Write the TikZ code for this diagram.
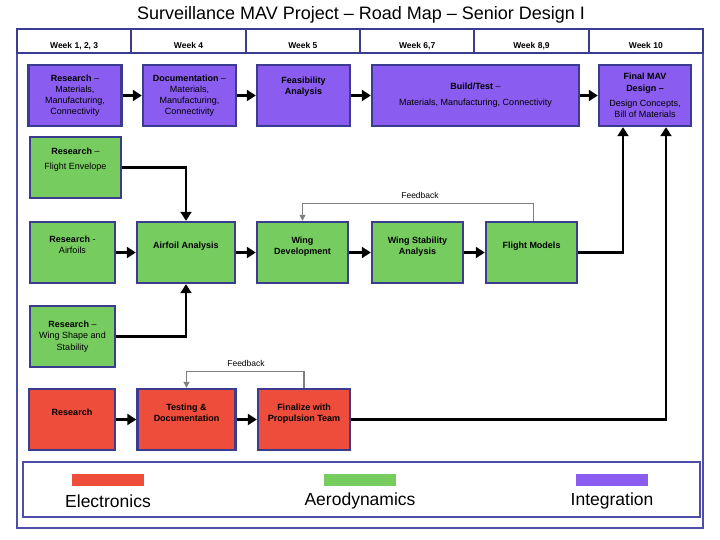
\documentclass[tikz,border=0pt]{standalone}
\usepackage{fontspec}
\setmainfont{Liberation Sans}
\usetikzlibrary{positioning,arrows.meta,calc}
\definecolor{mapblue}{HTML}{3B3B8F}
\definecolor{frameblue}{HTML}{4E4EA6}
\definecolor{integfill}{HTML}{8A5CF0}
\definecolor{aerofill}{HTML}{77CC60}
\definecolor{elecfill}{HTML}{EE4D3B}
\tikzset{
    every node/.style={font=\fontsize{9}{11.2}\selectfont},
    stage/.style={rectangle,draw=mapblue,line width=2.4pt,align=center,inner sep=2pt,minimum height=61pt},
    integ/.style={stage,fill=integfill},
    aero/.style={stage,fill=aerofill},
    elec/.style={stage,fill=elecfill},
    weekcell/.style={rectangle,draw=mapblue,line width=2pt,fill=white,minimum width=114.33pt,minimum height=24pt},
    weektext/.style={font=\bfseries\fontsize{8.5}{10}\selectfont,anchor=base},
    swatch/.style={rectangle,minimum width=72pt,minimum height=12pt,inner sep=0pt},
    legendtext/.style={font=\fontsize{17.5}{19}\selectfont},
    flow/.style={draw,line width=2.4pt,-{Triangle[length=9pt,width=11pt]}},
    fback/.style={draw=gray,line width=1.1pt,-{Triangle[length=6pt,width=6pt]}},
    fbtext/.style={font=\fontsize{8.5}{10}\selectfont}
}

\begin{document}
\begin{tikzpicture}[x=1pt,y=-1pt]
\useasboundingbox (0,0) rectangle (720,540);

% title and frame
\node[font=\fontsize{18}{20}\selectfont] (title) at (361,15) {Surveillance MAV Project -- Road Map -- Senior Design I};
\draw[frameblue,line width=2.6pt] (17,30) rectangle (703,528);

% weeks
\foreach \i in {1,...,6}{
    \node[weekcell] (week\i) at ({17+114.33*(\i-0.5)},41.5) {};
}
\node[weektext] (wkA) at ([yshift=-7pt]week1) {Week 1, 2, 3};
\node[weektext] (wkB) at ([yshift=-7pt]week2) {Week 4};
\node[weektext] (wkC) at ([yshift=-7pt]week3) {Week 5};
\node[weektext] (wkD) at ([yshift=-7pt]week4) {Week 6,7};
\node[weektext] (wkE) at ([yshift=-7pt]week5) {Week 8,9};
\node[weektext] (wkF) at ([yshift=-7pt]week6) {Week 10};

% integration row
\node[integ,minimum width=93pt] (resM) at (75,95.5) {\textbf{Research} --\\Materials,\\Manufacturing,\\Connectivity};
\node[integ,minimum width=93pt] (doc) at (189.5,95.5) {\textbf{Documentation} --\\Materials,\\Manufacturing,\\Connectivity};
\node[integ,minimum width=93pt] (feas) at (303.5,95.5) {\textbf{Feasibility}\\\textbf{Analysis}\\[8pt]};
\node[integ,minimum width=207pt] (build) at (475.5,95.5) {\textbf{Build/Test} --\\[5pt]Materials, Manufacturing, Connectivity};
\node[integ,minimum width=92pt] (final) at (645,95.5) {\textbf{Final MAV}\\\textbf{Design --}\\[4pt]Design Concepts,\\Bill of Materials};

% aerodynamics
\node[aero,minimum width=91pt] (resFE) at (75.5,167.5) {\textbf{Research} --\\[4pt]Flight Envelope\\[6pt]};
\node[aero,minimum width=85pt] (resAF) at (72.5,252.5) {\textbf{Research} -\\Airfoils\\[4pt]};
\node[aero,minimum width=98pt] (airfoil) at (186,252.5) {\textbf{Airfoil Analysis}\\[4pt]};
\node[aero,minimum width=91pt] (wingdev) at (302.5,252.5) {\textbf{Wing}\\\textbf{Development}\\[2pt]};
\node[aero,minimum width=91pt] (wingstab) at (417.5,252.5) {\textbf{Wing Stability}\\\textbf{Analysis}\\[2pt]};
\node[aero,minimum width=91pt] (flight) at (531.5,252.5) {\textbf{Flight Models}\\[4pt]};
\node[aero,minimum width=85pt] (resWS) at (72.5,336.5) {\textbf{Research} --\\Wing Shape and\\Stability};

% electronics
\node[elec,minimum width=86pt] (resE) at (72,419.5) {\textbf{Research}\\[4pt]};
\node[elec,minimum width=98pt] (test) at (186.5,419.5) {\textbf{Testing \&}\\\textbf{Documentation}\\[2pt]};
\node[elec,minimum width=92pt] (finalize) at (304,419.5) {\textbf{Finalize with}\\\textbf{Propulsion Team}\\[2pt]};

% arrows
\draw[flow] (resM) -- (doc);
\draw[flow] (doc) -- (feas);
\draw[flow] (feas) -- (build);
\draw[flow] (build) -- (final);
\draw[flow] (resFE.east) -| (airfoil.north);
\draw[flow] (resWS.east) -| (airfoil.south);
\draw[flow] (resAF) -- (airfoil);
\draw[flow] (airfoil) -- (wingdev);
\draw[flow] (wingdev) -- (wingstab);
\draw[flow] (wingstab) -- (flight);
\draw[flow] (flight.east) -| ([xshift=-22pt]final.south);
\draw[flow] (resE) -- (test);
\draw[flow] (test) -- (finalize);
\draw[flow] (finalize.east) -| ([xshift=21pt]final.south);

% feedback loops
\draw[fback] ([xshift=2pt]flight.north) -- ++(0,-17) -| (wingdev.north);
\node[fbtext] (fbAero) at (420,195) {Feedback};
\draw[fback] (finalize.north) -- ++(0,-16) -| (test.north);
\node[fbtext] (fbElec) at (246,363) {Feedback};

% legend
\draw[frameblue,line width=2.4pt] (23,462) rectangle (700,517);
\node[swatch,fill=elecfill] (swE) at (108,480) {};
\node[swatch,fill=aerofill] (swA) at (360,480) {};
\node[swatch,fill=integfill] (swI) at (612,480) {};
\node[legendtext] (labE) at (108,501) {Electronics};
\node[legendtext] (labA) at (360,501) {Aerodynamics};
\node[legendtext] (labI) at (612,501) {Integration};
\end{tikzpicture}
\end{document}
